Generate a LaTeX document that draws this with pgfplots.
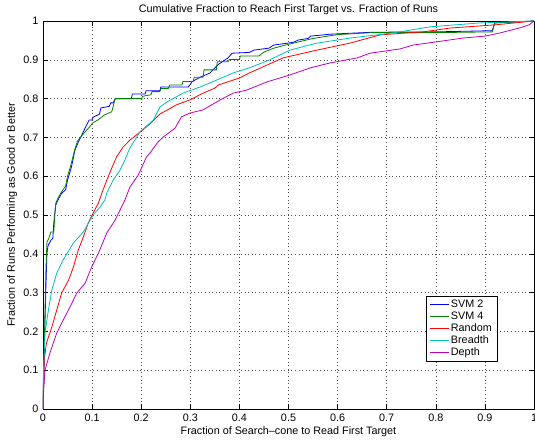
\documentclass[border=0pt]{standalone}
\usepackage{pgfplots}
\pgfplotsset{compat=1.18}
\usepackage{fontspec}
\setmainfont{Liberation Sans}
\definecolor{mblue}{rgb}{0,0,1}
\definecolor{mgreen}{rgb}{0,0.5,0}
\definecolor{mred}{rgb}{1,0,0}
\definecolor{mcyan}{rgb}{0,0.75,0.75}
\definecolor{mmag}{rgb}{0.75,0,0.75}
\begin{document}
\begin{tikzpicture}
\begin{axis}[
  name=ax,
  scale only axis, width=491pt, height=388pt,
  xmin=0, xmax=1, ymin=0, ymax=1,
  xtick={0,0.1,...,1}, ytick={0,0.1,...,1},
  xticklabels={0,0.1,0.2,0.3,0.4,0.5,0.6,0.7,0.8,0.9,1},
  yticklabels={0,0.1,0.2,0.3,0.4,0.5,0.6,0.7,0.8,0.9,1},
  tick align=inside, major tick length=5pt,
  tick style={black, line width=0.5pt},
  axis line style={line width=0.8pt},
  xmajorgrids, ymajorgrids,
  major grid style={black!70, line width=0.5pt, dash pattern=on 0.6pt off 3pt},
  ticklabel style={font=\fontsize{10.8}{13}\selectfont},
  xticklabel shift=1.5pt, yticklabel shift=1pt,
  xlabel={Fraction of Search\textendash cone to Read First Target},
  xlabel style={font=\fontsize{10.8}{13}\selectfont, at={(axis description cs:0.5,-0.059)}, anchor=center, yshift=0pt},
  ylabel={Fraction of Runs Performing as Good or Better},
  ylabel style={font=\fontsize{10.8}{13}\selectfont, at={(axis description cs:-0.063,0.5)}, anchor=center, yshift=0pt},
  legend style={font=\fontsize{10.8}{13}\selectfont, at={(axis description cs:0.926,0.292)}, anchor=north east,
    draw=black, line width=0.8pt, inner xsep=3.5pt, inner ysep=2pt, row sep=-1.2pt},
  legend cell align=left,
  legend image code/.code={\draw[#1, line width=0.8pt] (0cm,0cm) -- (0.64cm,0cm);},
  every axis plot/.append style={line width=0.8pt},
]
\addplot[mblue] coordinates {
(0,0) (0.002,0.1) (0.004,0.22) (0.006,0.32) (0.008,0.4) (0.01,0.42) (0.016,0.435) (0.02,0.44) (0.022,0.48) (0.026,0.526) (0.031,0.54) (0.038,0.556) (0.046,0.565) (0.05,0.59) (0.058,0.624) (0.065,0.667) (0.072,0.688) (0.079,0.706) (0.088,0.73) (0.094,0.745) (0.1,0.745) (0.102,0.752) (0.115,0.76) (0.118,0.776) (0.135,0.78) (0.138,0.789) (0.143,0.789) (0.147,0.8) (0.18,0.8) (0.182,0.812) (0.208,0.812) (0.21,0.82) (0.238,0.82) (0.24,0.83) (0.296,0.83) (0.304,0.844) (0.32,0.855) (0.34,0.866) (0.357,0.888) (0.377,0.905) (0.385,0.917) (0.42,0.919) (0.43,0.925) (0.46,0.93) (0.47,0.938) (0.51,0.945) (0.52,0.951) (0.54,0.955) (0.545,0.961) (0.585,0.966) (0.67,0.971) (0.8,0.972) (0.915,0.975) (0.92,0.995) (1,1)
};
\addlegendentry{SVM 2}
\addplot[mgreen] coordinates {
(0,0) (0.002,0.12) (0.004,0.25) (0.006,0.36) (0.008,0.43) (0.012,0.44) (0.016,0.456) (0.022,0.456) (0.024,0.5) (0.026,0.53) (0.031,0.545) (0.038,0.56) (0.046,0.575) (0.05,0.6) (0.056,0.625) (0.064,0.665) (0.07,0.69) (0.08,0.706) (0.09,0.72) (0.102,0.738) (0.112,0.745) (0.125,0.758) (0.14,0.766) (0.147,0.8) (0.201,0.8) (0.203,0.806) (0.22,0.81) (0.222,0.818) (0.238,0.818) (0.24,0.826) (0.255,0.826) (0.258,0.835) (0.283,0.835) (0.285,0.844) (0.306,0.844) (0.308,0.855) (0.326,0.855) (0.328,0.874) (0.353,0.874) (0.355,0.895) (0.377,0.895) (0.38,0.901) (0.40,0.901) (0.402,0.91) (0.44,0.91) (0.45,0.92) (0.47,0.93) (0.5,0.94) (0.55,0.955) (0.6,0.965) (0.67,0.97) (0.8,0.97) (0.915,0.972) (0.92,0.995) (1,1)
};
\addlegendentry{SVM 4}
\addplot[mred] coordinates {
(0,0) (0.001,0.08) (0.003,0.13) (0.007,0.17) (0.018,0.211) (0.028,0.255) (0.038,0.299) (0.052,0.332) (0.062,0.366) (0.072,0.41) (0.082,0.443) (0.092,0.479) (0.102,0.505) (0.113,0.531) (0.12,0.557) (0.13,0.59) (0.14,0.621) (0.15,0.65) (0.163,0.675) (0.177,0.693) (0.198,0.714) (0.218,0.735) (0.238,0.76) (0.272,0.784) (0.3,0.797) (0.326,0.814) (0.35,0.827) (0.357,0.835) (0.4,0.853) (0.42,0.866) (0.489,0.905) (0.558,0.925) (0.625,0.943) (0.686,0.964) (0.727,0.968) (0.774,0.972) (0.83,0.982) (0.92,0.99) (1,1)
};
\addlegendentry{Random}
\addplot[mcyan] coordinates {
(0,0) (0.001,0.1) (0.004,0.196) (0.011,0.255) (0.018,0.307) (0.028,0.35) (0.041,0.384) (0.062,0.428) (0.082,0.456) (0.102,0.5) (0.116,0.52) (0.126,0.539) (0.13,0.557) (0.143,0.59) (0.157,0.616) (0.167,0.642) (0.177,0.673) (0.191,0.701) (0.197,0.714) (0.218,0.737) (0.225,0.745) (0.238,0.778) (0.252,0.791) (0.285,0.814) (0.32,0.83) (0.354,0.848) (0.387,0.866) (0.42,0.879) (0.462,0.9) (0.503,0.925) (0.558,0.943) (0.625,0.956) (0.692,0.966) (0.727,0.972) (0.788,0.985) (0.89,0.995) (1,1)
};
\addlegendentry{Breadth}
\addplot[mmag] coordinates {
(0,0) (0.001,0.04) (0.004,0.1) (0.014,0.144) (0.028,0.196) (0.041,0.229) (0.055,0.263) (0.069,0.299) (0.086,0.325) (0.099,0.366) (0.113,0.402) (0.13,0.454) (0.147,0.487) (0.157,0.513) (0.167,0.539) (0.177,0.572) (0.194,0.603) (0.211,0.65) (0.218,0.66) (0.234,0.688) (0.245,0.701) (0.269,0.724) (0.282,0.753) (0.3,0.763) (0.326,0.771) (0.36,0.796) (0.387,0.814) (0.415,0.822) (0.456,0.843) (0.503,0.861) (0.544,0.879) (0.585,0.892) (0.64,0.905) (0.666,0.917) (0.727,0.928) (0.754,0.938) (0.8,0.946) (0.855,0.956) (0.9,0.961) (0.93,0.969) (0.97,0.982) (0.99,0.99) (1,1)
};
\addlegendentry{Depth}
\end{axis}
\node[font=\fontsize{10.8}{13}\selectfont, anchor=center] at ([yshift=11pt]ax.north) {Cumulative Fraction to Reach First Target vs. Fraction of Runs};
\pgfresetboundingbox
\path ([xshift=-43pt,yshift=-36pt]ax.south west) rectangle ([xshift=1pt,yshift=21pt]ax.north east);
\end{tikzpicture}
\end{document}
